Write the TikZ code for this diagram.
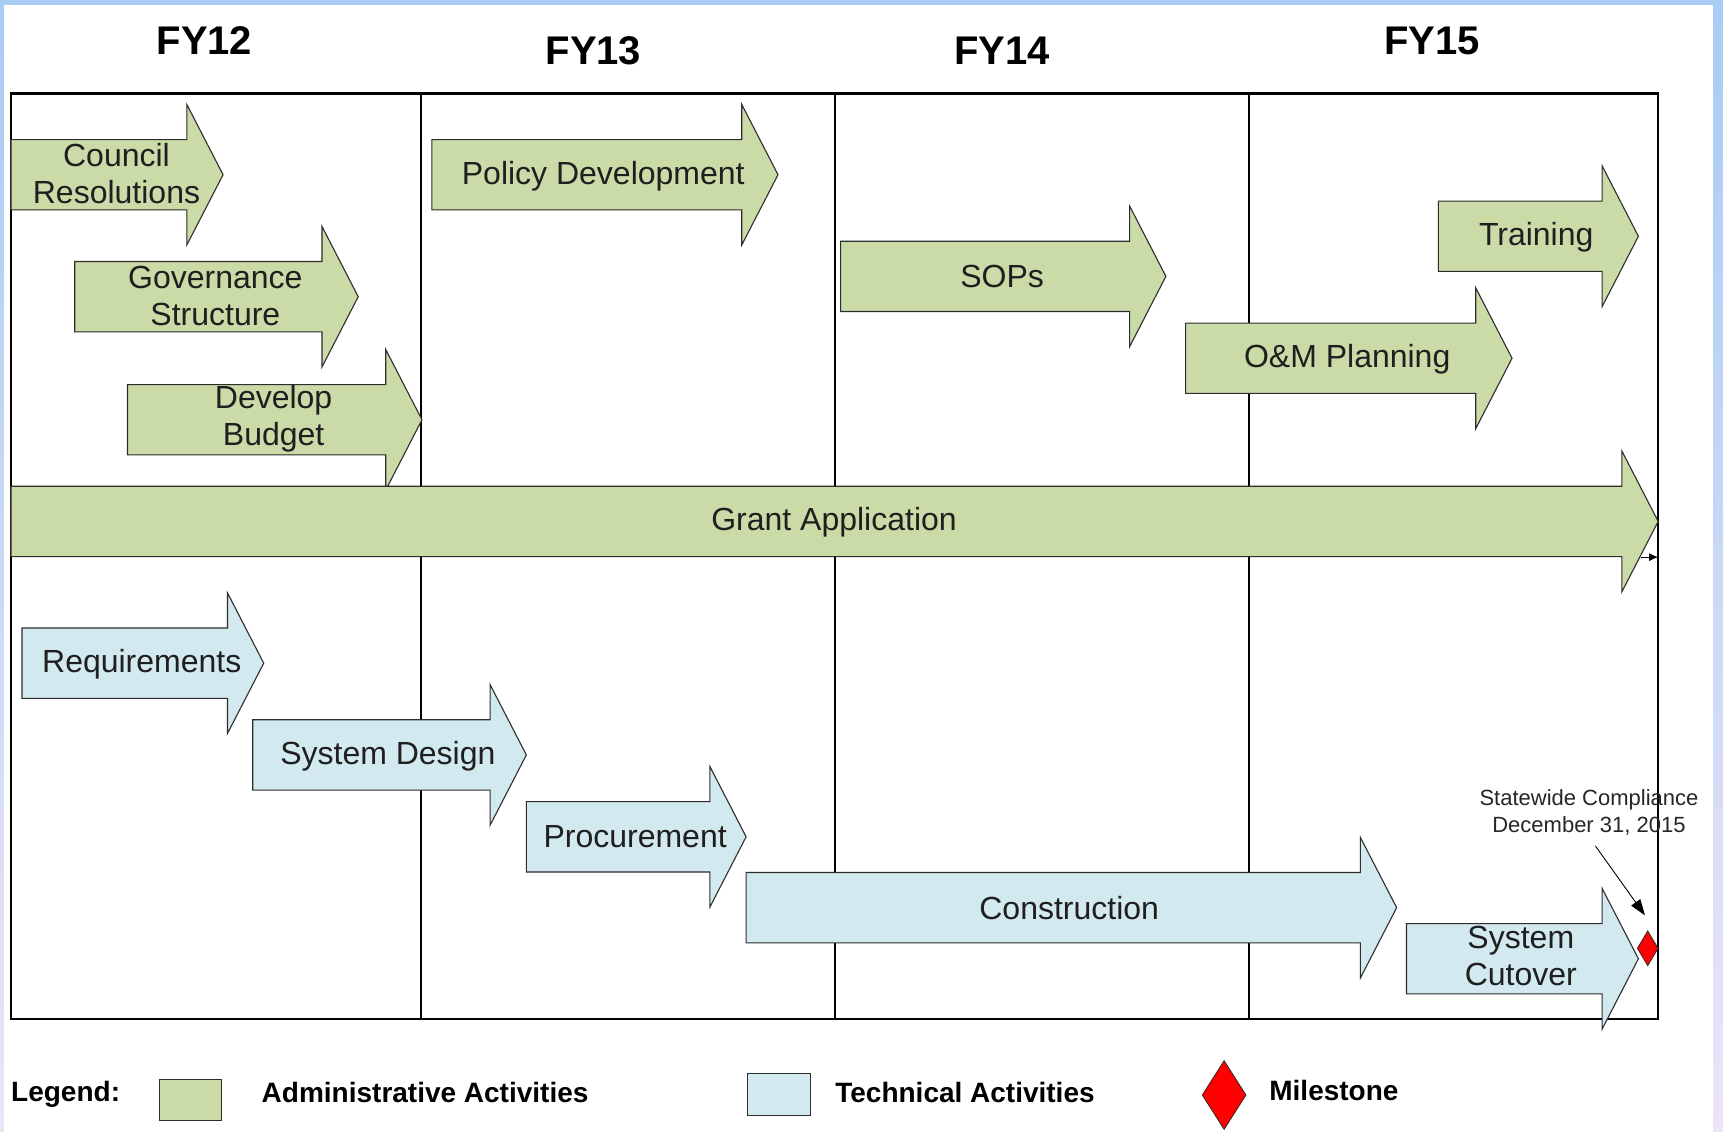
\documentclass[tikz,border=0pt]{standalone}
\usepackage{fontspec}
\setmainfont{Liberation Sans}
\usetikzlibrary{arrows.meta,shapes.geometric}
\definecolor{admin}{RGB}{203,219,168}
\definecolor{tech}{RGB}{210,233,239}
\definecolor{bandtop}{RGB}{168,204,244}
\definecolor{bandbot}{RGB}{236,228,247}
\definecolor{edgegray}{RGB}{45,45,45}
\newcommand\actarrow[4]{% #1 style, #2 left x, #3 centre y, #4 head x
  \draw[#1] (#2,#3-32) -- (#4,#3-32) -- (#4,#3-64) -- (#4+33,#3) -- (#4,#3+64) -- (#4,#3+32) -- (#2,#3+32) -- cycle;}
\begin{document}
\begin{tikzpicture}[x=1.0989pt,y=-1.0989pt,
  adminbar/.style={draw=edgegray,fill=admin,line width=1.1pt,line join=miter},
  techbar/.style={draw=edgegray,fill=tech,line width=1.1pt,line join=miter},
  lbl/.style={align=center,inner sep=0pt,text=black!88,font=\fontsize{32}{37}\selectfont},
  fyhead/.style={inner sep=0pt,font=\fontsize{40}{44}\selectfont\bfseries},
  legtext/.style={anchor=west,inner sep=0pt,font=\fontsize{28}{32}\selectfont\bfseries},
  notetext/.style={align=center,inner sep=0pt,text=black!85,font=\fontsize{22}{27}\selectfont}]
% background and bounding box
\useasboundingbox (0,0) rectangle (1568,1030);
\shade[top color=bandtop,bottom color=bandbot] (0,0) rectangle (1568,1030);
\fill[white] (3.3,5) rectangle (1558.5,1031);
% year headings
\node[fyhead] (fy12) at (186,37) {FY12};
\node[fyhead] (fy13) at (540,46) {FY13};
\node[fyhead] (fy14) at (912,46) {FY14};
\node[fyhead] (fy15) at (1303,37) {FY15};
% frame and year dividers
\draw[line width=2pt] (383,85) -- (383,927);
\draw[line width=2pt] (760,85) -- (760,927);
\draw[line width=2pt] (1137,85) -- (1137,927);
\draw[line width=2.3pt] (10,85) rectangle (1509,927);
% administrative activities
\actarrow{adminbar}{10}{159}{170}
\node[lbl] (council) at (106,158) {Council\\Resolutions};
\actarrow{adminbar}{68}{270}{293}
\node[lbl] (governance) at (196,269) {Governance\\Structure};
\actarrow{adminbar}{116}{382}{351}
\node[lbl] (budget) at (249,381) {Develop\\Budget};
\actarrow{adminbar}{393}{159}{675}
\node[lbl] (policy) at (549,160.5) {Policy Development};
\actarrow{adminbar}{765}{251.5}{1028}
\node[lbl] (sops) at (912,252) {SOPs};
\actarrow{adminbar}{1309}{215}{1458}
\node[lbl] (training) at (1398,216) {Training};
\actarrow{adminbar}{1079}{326}{1343}
\node[lbl] (om) at (1226,327) {O\&M Planning};
\actarrow{adminbar}{10}{474.5}{1476}
\node[lbl] (grant) at (759,475) {Grant Application};
\coordinate (gaA) at (1493,507);
\coordinate (gaB) at (1509,507);
\draw[line width=0.9pt,-{Latex[length=9pt,width=8pt]}] (gaA) -- (gaB);
% technical activities
\actarrow{techbar}{20}{603.5}{207}
\node[lbl] (requirements) at (129,604.5) {Requirements};
\actarrow{techbar}{230}{687}{446}
\node[lbl] (sysdesign) at (353,688.5) {System Design};
\actarrow{techbar}{479}{761.5}{646}
\node[lbl] (procurement) at (578,761.5) {Procurement};
\actarrow{techbar}{679}{826}{1238}
\node[lbl] (construction) at (973,826) {Construction};
\actarrow{techbar}{1280}{872.5}{1458}
\node[lbl] (cutover) at (1384,870) {System\\Cutover};
% milestone
\node[diamond,draw=edgegray,fill=red,line width=0.8pt,minimum width=21pt,minimum height=35pt,inner sep=0pt] (ms) at (1499.5,863) {};
\node[notetext] (note) at (1446,739) {Statewide Compliance\\December 31, 2015};
\coordinate (noteA) at (1452,770);
\coordinate (noteB) at (1497,833);
\draw[line width=0.9pt,-{Triangle[length=16pt,width=11pt]}] (noteA) -- (noteB);
% legend
\node[legtext] (legend) at (10,996) {Legend:};
\node[draw=edgegray,fill=admin,line width=1.1pt,minimum width=62.5pt,minimum height=41.5pt,inner sep=0pt] (legadmin) at (173.5,1001) {};
\node[legtext] (legadmintext) at (238,994) {Administrative Activities};
\node[draw=edgegray,fill=tech,line width=1.1pt,minimum width=63.5pt,minimum height=41.5pt,inner sep=0pt] (legtech) at (709,996) {};
\node[legtext] (legtechtext) at (760,994) {Technical Activities};
\node[diamond,draw=edgegray,fill=red,line width=0.8pt,minimum width=44pt,minimum height=69pt,inner sep=0pt] (legms) at (1114,996.5) {};
\node[legtext] (legmstext) at (1155,992) {Milestone};
\end{tikzpicture}
\end{document}
